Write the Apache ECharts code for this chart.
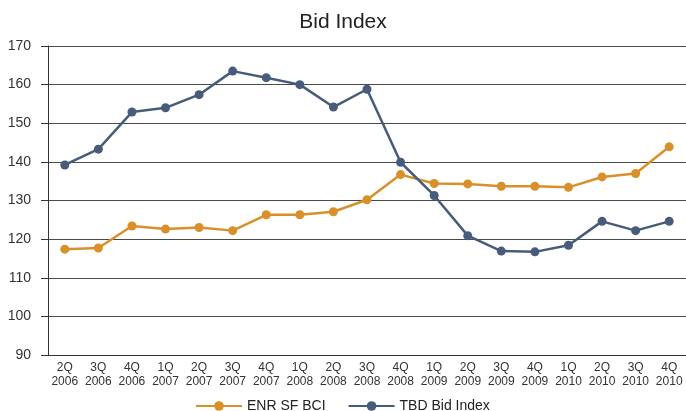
<!DOCTYPE html>
<html>
<head>
<meta charset="utf-8">
<script src="https://cdn.jsdelivr.net/npm/echarts@6/dist/echarts.min.js"></script>
<style>
    html, body { margin: 0; padding: 0; background: #fff; }
    #main { width: 686px; height: 411px; }
</style>
</head>
<body>
<div id="main"></div>
<script>
    // 季度标签
    var categories = ['2Q\n2006', '3Q\n2006', '4Q\n2006', '1Q\n2007', '2Q\n2007', '3Q\n2007', '4Q\n2007',
        '1Q\n2008', '2Q\n2008', '3Q\n2008', '4Q\n2008', '1Q\n2009', '2Q\n2009', '3Q\n2009', '4Q\n2009',
        '1Q\n2010', '2Q\n2010', '3Q\n2010', '4Q\n2010'];
    var enrValues = [117.4, 117.7, 123.4, 122.6, 123.0, 122.2, 126.3, 126.3, 127.1, 130.2,
        136.7, 134.4, 134.3, 133.7, 133.7, 133.4, 136.1, 137.0, 143.9];
    var tbdValues = [139.2, 143.3, 152.9, 154.0, 157.4, 163.5, 161.8, 160.0, 154.2, 158.8,
        139.9, 131.3, 120.9, 116.9, 116.7, 118.4, 124.6, 122.2, 124.6];
    var yTicks = [90, 100, 110, 120, 130, 140, 150, 160, 170];

    var myChart = echarts.init(document.getElementById('main'));

    var option = {
        animation: false,
        title: {
            text: 'Bid Index',
            left: 'center',
            top: 7,
            textStyle: { fontFamily: 'Liberation Sans', fontSize: 21, fontWeight: 'normal', color: '#222' }
        },
        legend: {
            top: 394,
            left: 190,
            itemWidth: 46,
            itemHeight: 12,
            itemGap: 22,
            textStyle: { fontFamily: 'Liberation Sans', fontSize: 14, color: '#222' },
            data: ['ENR SF BCI', 'TBD Bid Index']
        },
        grid: {
            left: 48,
            right: -6,
            top: 46,
            bottom: 56
        },
        xAxis: {
            type: 'category',
            data: categories,
            boundaryGap: true,
            axisLine: { lineStyle: { color: '#333', width: 1 } },
            axisTick: { show: false },
            axisLabel: {
                fontFamily: 'Liberation Sans', fontSize: 12, color: '#333',
                lineHeight: 14, margin: 6, interval: 0
            },
            splitLine: { show: false }
        },
        yAxis: {
            type: 'value',
            min: yTicks[0],
            max: yTicks[yTicks.length - 1],
            interval: 10,
            axisLine: { show: true, lineStyle: { color: '#333', width: 1 } },
            axisTick: { show: true, length: 7, lineStyle: { color: '#333' } },
            axisLabel: { fontFamily: 'Liberation Sans', fontSize: 14, color: '#333', margin: 17 },
            splitLine: { lineStyle: { color: '#4a4a4a', width: 1 } }
        },
        series: [
            {
                name: 'ENR SF BCI',
                type: 'line',
                data: enrValues,
                symbol: 'circle',
                symbolSize: 9,
                itemStyle: { color: '#D9902A' },
                lineStyle: { color: '#D9902A', width: 2.5 }
            },
            {
                name: 'TBD Bid Index',
                type: 'line',
                data: tbdValues,
                symbol: 'circle',
                symbolSize: 9,
                itemStyle: { color: '#475C7A' },
                lineStyle: { color: '#475C7A', width: 2.5 }
            }
        ]
    };

    myChart.setOption(option);
</script>
</body>
</html>
